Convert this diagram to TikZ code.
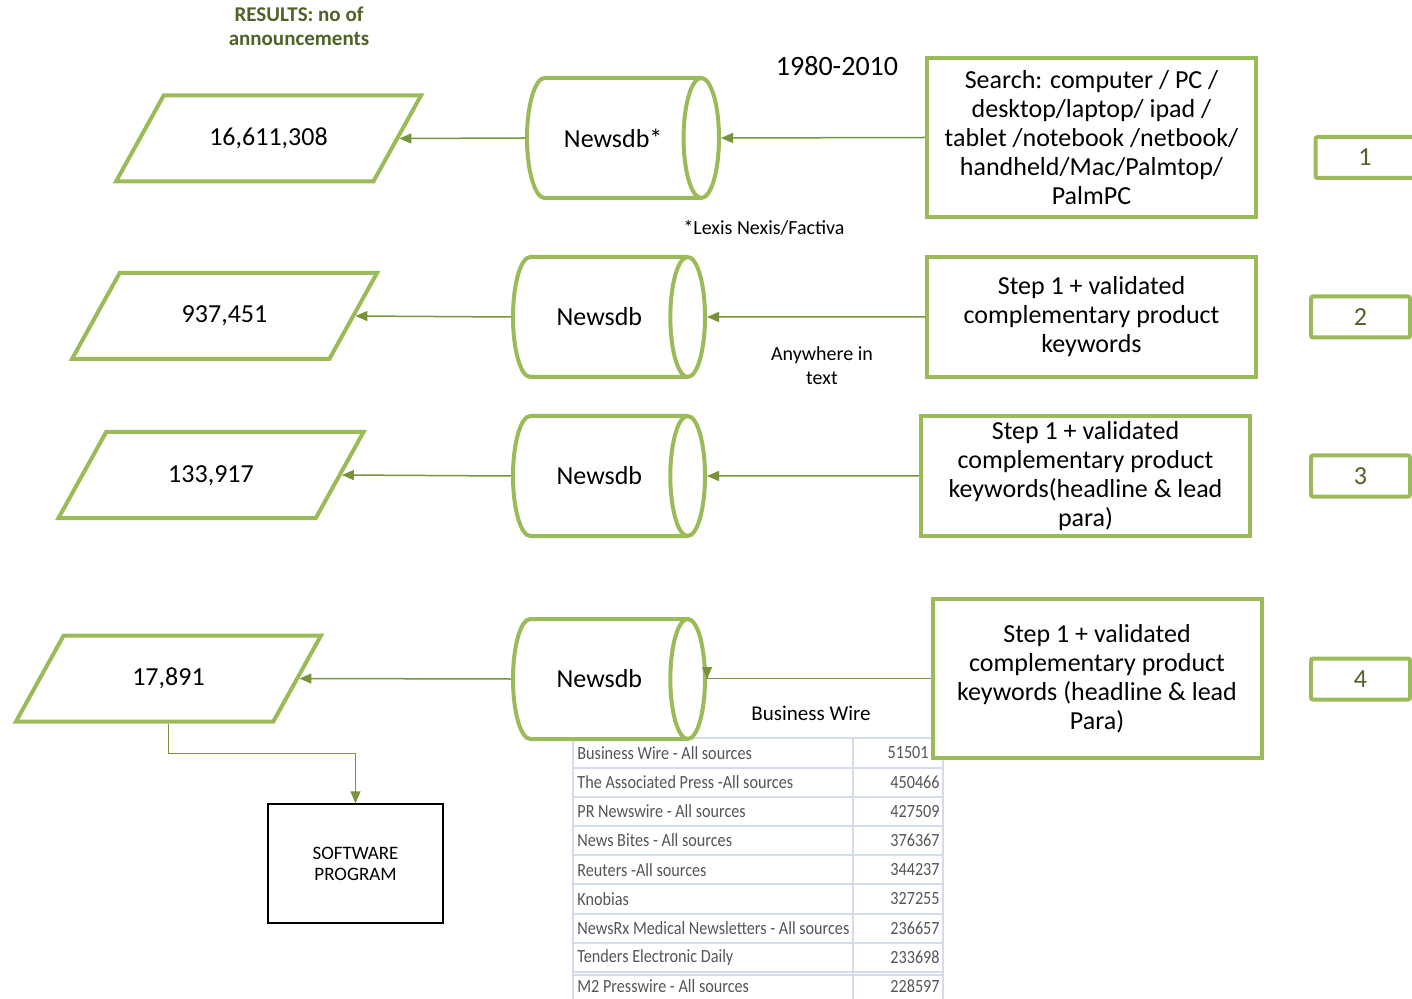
\documentclass[tikz,border=0pt]{standalone}
\usepackage{fontspec}
\setmainfont{Carlito}
\newfontfamily\tablefont[FakeStretch=0.87]{Carlito}
\usepackage{tikz}
\usetikzlibrary{arrows.meta,positioning,calc,shapes.geometric}
\definecolor{boxgreen}{RGB}{155,187,89}
\definecolor{arrowgreen}{RGB}{119,147,60}
\definecolor{darkolive}{RGB}{79,98,40}
\definecolor{gridblue}{RGB}{212,219,234}
\definecolor{tabletext}{RGB}{85,85,85}
\tikzset{
  result/.style={trapezium, trapezium left angle=61, trapezium right angle=119, trapezium stretches body=true, draw=boxgreen, line width=2pt, fill=white, minimum width=152.5pt, text height=9pt, text depth=2pt, inner xsep=0pt, inner ysep=16pt, font=\fontsize{13}{14.5}\selectfont},
  db/.style={cylinder, draw=boxgreen, line width=2pt, fill=white, aspect=1.9, minimum height=96pt, minimum width=60pt, inner sep=0pt, font=\fontsize{13}{14.5}\selectfont},
  query/.style={rectangle, draw=boxgreen, line width=2pt, fill=white, minimum width=164.5pt, minimum height=60pt, align=center, inner sep=0pt, font=\fontsize{13}{14.5}\selectfont},
  stepno/.style={rectangle, rounded corners=1pt, draw=boxgreen, line width=2pt, fill=white, minimum width=49.5pt, minimum height=20.5pt, text=darkolive, font=\fontsize{13}{14.5}\selectfont},
  flow/.style={arrowgreen, line width=0.75pt, -{Triangle[length=6pt,width=5pt]}},
  note/.style={align=center, font=\fontsize{10}{12}\selectfont},
  heading/.style={align=center, text=darkolive, font=\fontsize{10.5}{12}\selectfont\bfseries},
  program/.style={rectangle, draw=black, line width=0.75pt, minimum width=87.5pt, minimum height=59.5pt, align=center, font=\fontsize{9.5}{10.5}\selectfont},
  cell/.style={inner sep=0pt, text=tabletext, font=\tablefont\fontsize{9.3}{10}\selectfont},
  grid/.style={draw=gridblue, line width=1pt}
}

\begin{document}
\begin{tikzpicture}[x=0.5pt, y=-0.5pt]
  \useasboundingbox (0,0) rectangle (1412,999);

  % Labels
  \node[heading] (head) at (299,26) {RESULTS: no of\\announcements};
  \node[font=\fontsize{14}{16}\selectfont] (period) at (837,66) {1980-2010};
  \node[note] (lexis) at (764,228) {*Lexis Nexis/Factiva};
  \node[note] (where) at (822,366) {Anywhere in\\text};
  \node[note, font=\fontsize{10.5}{12}\selectfont] (bwire) at (811,713) {Business Wire};

  % Source table
  \foreach \i in {0,...,8}
    \draw[grid] (573,{738.3+29.2*\i}) -- (943,{738.3+29.2*\i});
  \draw[grid] (573,974.5) -- (943,974.5);
  \draw[grid] (573,738.3) -- (573,999) (853,738.3) -- (853,999) (943,738.3) -- (943,999);
  \foreach \src/\cnt/\xr [count=\i from 0] in {Business Wire - All sources/51501/929,
      The Associated Press -All sources/450466/940, PR Newswire - All sources/427509/940,
      News Bites - All sources/376367/940, Reuters -All sources/344237/940,
      Knobias/327255/940, NewsRx Medical Newsletters - All sources/236657/940,
      Tenders Electronic Daily/233698/940, M2 Presswire - All sources/228597/940} {
    \node[cell, anchor=west] (src\i) at (577,{753+29.2*\i}) {\src};
    \node[cell, anchor=east] (cnt\i) at (\xr,{753+29.2*\i}) {\cnt};
  }

  % Step 1
  \node[result] (r1) at (268.5,138.5) {16,611,308};
  \node[db, anchor=west] (d1) at (525,138) {Newsdb*};
  \node[query, minimum height=79.5pt] (q1) at (1091.5,137.5) {Search: computer / PC /\\desktop/laptop/ ipad /\\tablet /notebook /netbook/\\handheld/Mac/Palmtop/\\PalmPC};
  \node[stepno] (s1) at (1365,157.5) {1};
  \draw[flow] (q1.west) -- (d1.east);
  \draw[flow] (d1.west) -- (r1.east);

  % Step 2
  \node[result] (r2) at (224.5,316) {937,451};
  \node[db, anchor=west] (d2) at (511,317) {Newsdb};
  \node[query] (q2) at (1091.5,317) {Step 1 + validated\\complementary product\\keywords};
  \node[stepno] (s2) at (1360.5,317) {2};
  \draw[flow] (q2.west) -- (d2.east);
  \draw[flow] (d2.west) -- (r2.east);

  % Step 3
  \node[result] (r3) at (211,475) {133,917};
  \node[db, anchor=west] (d3) at (511,476) {Newsdb};
  \node[query] (q3) at (1085.5,476) {Step 1 + validated\\complementary product\\keywords(headline \& lead\\para)};
  \node[stepno] (s3) at (1360.5,476) {3};
  \draw[flow] (q3.west) -- (d3.east);
  \draw[flow] (d3.west) -- (r3.east);

  % Step 4
  \node[result] (r4) at (168.5,678.5) {17,891};
  \node[db, anchor=west] (d4) at (511,679) {Newsdb};
  \node[query, minimum height=79.5pt] (q4) at (1097,678.5) {Step 1 + validated\\complementary product\\keywords (headline \& lead\\Para)};
  \node[stepno] (s4) at (1360.5,679) {4};
  \draw[flow] (q4.west) -| (d4.east);
  \draw[flow] (d4.west) -- (r4.east);

  % Output
  \node[program] (soft) at (355.5,863.5) {SOFTWARE\\PROGRAM};
  \draw[flow] (r4.south) -- ++(0,30) -| (soft.north);
\end{tikzpicture}
\end{document}
